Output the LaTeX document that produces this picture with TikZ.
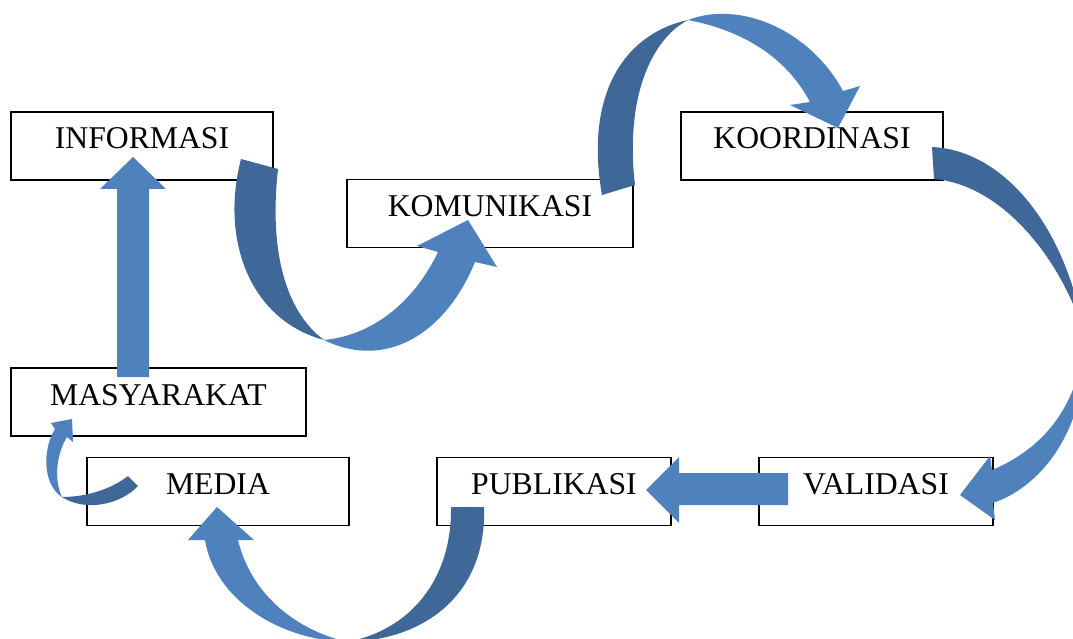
\documentclass[tikz,border=0pt]{standalone}
\usepackage{fontspec}
\setmainfont{Liberation Serif}
\definecolor{lightb}{HTML}{4F81BD}
\definecolor{darkb}{HTML}{3F6797}
\begin{document}
\begin{tikzpicture}[x=1pt,y=-1pt,
  box/.style={draw=black, line width=1.5pt, inner sep=0pt, minimum height=68pt,
    text height=37pt, text depth=31pt, font=\fontsize{31.7}{38}\selectfont},
  lightpart/.style={fill=lightb, draw=none},
  darkpart/.style={fill=darkb, draw=none}]
\useasboundingbox (0,0) rectangle (1073,639);
\fill[white] (0,0) rectangle (1073,639);
% boxes
\node[box, minimum width=262pt] (informasi) at (142,146) {INFORMASI};
\node[box, minimum width=286pt, minimum height=67pt] (komunikasi) at (490,213.5) {KOMUNIKASI};
\node[box, minimum width=262pt] (koordinasi) at (812,146) {KOORDINASI};
\node[box, minimum width=295pt] (masyarakat) at (158.5,402) {MASYARAKAT};
\node[box, minimum width=262pt, minimum height=67pt] (media) at (218,491.5) {MEDIA};
\node[box, minimum width=234pt, minimum height=67pt] (publikasi) at (554,491.5) {PUBLIKASI};
\node[box, minimum width=234pt, minimum height=67pt] (validasi) at (876,491.5) {VALIDASI};
\begin{scope}
\clip (0,0) rectangle (1073,639);
% straight arrow MASYARAKAT -> INFORMASI
\fill[lightpart] (117,377) -- (117,189) -- (100,189) -- (133,157) -- (166,189) -- (149,189) -- (149,377) -- cycle;
% straight arrow VALIDASI -> PUBLIKASI
\fill[lightpart] (788,473) -- (679,473) -- (679,457) -- (646,490) -- (679,523) -- (679,505) -- (788,505) -- cycle;
% curved arrow INFORMASI -> KOMUNIKASI
\fill[darkpart] (241,159) -- (278,169) .. controls (268,260) and (290,315) .. (324,340)
  .. controls (250,320) and (220,240) .. (241,159) -- cycle;
\fill[lightpart] (324,340) .. controls (375,335) and (415,300) .. (438,252) -- (417,246) -- (468,220)
  -- (497,267) -- (475,262) .. controls (445,335) and (385,370) .. (324,340) -- cycle;
% curved arrow KOMUNIKASI -> KOORDINASI
\fill[darkpart] (602,195) -- (635,185) .. controls (625,100) and (650,40) .. (688,20)
  .. controls (620,35) and (585,100) .. (602,195) -- cycle;
\fill[lightpart] (688,20) .. controls (740,0) and (810,30) .. (843,91) -- (860,86) -- (838,128)
  -- (790,105) -- (810,102) .. controls (785,55) and (740,30) .. (688,20) -- cycle;
% curved arrow KOORDINASI -> VALIDASI
\fill[darkpart] (932,147) .. controls (1000,150) and (1065,220) .. (1085,338)
  .. controls (1065,265) and (1005,185) .. (934,179) -- cycle;
\fill[lightpart] (1085,338) .. controls (1088,425) and (1045,485) .. (993,503) -- (995,520) -- (960,495)
  -- (990,456) -- (992,470) .. controls (1040,450) and (1078,410) .. (1085,338) -- cycle;
% curved arrow PUBLIKASI -> MEDIA
\fill[darkpart] (451,507) -- (484,507) .. controls (487,590) and (430,640) .. (347,642)
  .. controls (410,630) and (452,580) .. (451,507) -- cycle;
\fill[lightpart] (347,642) .. controls (280,640) and (215,600) .. (205,540) -- (188,540) -- (217,507)
  -- (254,540) -- (238,540) .. controls (250,590) and (290,628) .. (347,642) -- cycle;
% curved arrow MEDIA -> MASYARAKAT
\fill[darkpart] (128,476) -- (138,486) .. controls (120,505) and (85,512) .. (62,497)
  .. controls (85,497) and (110,490) .. (128,476) -- cycle;
\fill[lightpart] (62,497) .. controls (43,485) and (42,450) .. (55,429) -- (51,423) -- (72,419)
  -- (73,442) -- (67,437) .. controls (56,455) and (54,480) .. (62,497) -- cycle;
\end{scope}
\end{tikzpicture}
\end{document}
